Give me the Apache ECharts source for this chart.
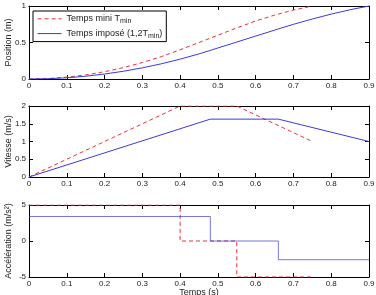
<!DOCTYPE html>
<html>
<head>
<meta charset="utf-8">
<script src="https://cdn.jsdelivr.net/npm/echarts@6/dist/echarts.min.js"></script>
<style>
html, body { margin: 0; padding: 0; background: #fff; }
#chart { width: 376px; height: 295px; }
</style>
</head>
<body>
<div id="chart"></div>
<script>
// temps (s)
const tMini = [0, 0.05, 0.1, 0.15, 0.2, 0.25, 0.3, 0.35, 0.4, 0.45, 0.5, 0.55, 0.6, 0.65, 0.7, 0.75]
const posMini = [0, 0.006, 0.025, 0.056, 0.1, 0.156, 0.225, 0.306, 0.4, 0.5, 0.6, 0.7, 0.794, 0.875, 0.944, 1.0]
const tImpose = [0, 0.05, 0.1, 0.15, 0.2, 0.25, 0.3, 0.35, 0.4, 0.45, 0.48, 0.5, 0.55, 0.6, 0.65, 0.66, 0.7, 0.75, 0.8, 0.85, 0.9]
const posImpose = [0, 0.004, 0.017, 0.038, 0.068, 0.106, 0.153, 0.208, 0.272, 0.344, 0.392, 0.425, 0.506, 0.588, 0.669, 0.686, 0.749, 0.822, 0.889, 0.949, 1.0]

// vitesse : points de rupture
const tVitMini = [0, 0.4, 0.55, 0.75]
const vitMini = [0, 2, 2, 1]
const tVitImpose = [0, 0.48, 0.66, 0.9]
const vitImpose = [0, 1.63, 1.63, 1.0]

// acceleration : paliers
const tAccMini = [0, 0.4, 0.4, 0.55, 0.55, 0.75]
const accMini = [5, 5, 0, 0, -5, -5]
const tAccImpose = [0, 0.48, 0.48, 0.66, 0.66, 0.9]
const accImpose = [3.4, 3.4, 0, 0, -2.6, -2.6]

const nomMini = 'Temps mini T_min'
const nomImpose = 'Temps imposé (1,2T_min)'

const pairs = (xs, ys) => xs.map((x, i) => [x, ys[i]])

const font = 'Liberation Sans, Arial, sans-serif'
const red = '#e8323a'
const blue = '#3a3ad8'

const grids = [
    { left: 29, right: 7, top: 6, height: 73, outerBoundsMode: 'none' },
    { left: 29, right: 7, top: 106, height: 71, outerBoundsMode: 'none' },
    { left: 29, right: 7, top: 205, height: 72, outerBoundsMode: 'none' }
]

const xAxes = []
const yAxes = []
const yConf = [
    { min: 0, max: 1, interval: 0.5, name: 'Position (m)' },
    { min: 0, max: 2, interval: 0.5, name: 'Vitesse (m/s)' },
    { min: -5, max: 5, interval: 5, name: 'Accélération (m/s²)' }
]
grids.forEach((g, i) => {
    const axisLine = { show: true, onZero: false, lineStyle: { color: '#000', width: 1 } }
    const tick = { show: true, inside: true, length: 4, lineStyle: { color: '#000' } }
    xAxes.push({
        type: 'value', gridIndex: i, position: 'bottom', min: 0, max: 0.9, interval: 0.1,
        axisLine, axisTick: tick, splitLine: { show: false },
        axisLabel: { fontSize: 8, color: '#222', fontFamily: font, margin: 3,
            formatter: v => String(Math.round(v * 10) / 10) },
        name: i === 2 ? 'Temps (s)' : '', nameLocation: 'middle', nameGap: 11,
        nameMoveOverlap: false,
        nameTextStyle: { fontSize: 9, color: '#222', fontFamily: font }
    })
    xAxes.push({
        type: 'value', gridIndex: i, position: 'top', min: 0, max: 0.9, interval: 0.1,
        axisLine, axisTick: tick, axisLabel: { show: false }, splitLine: { show: false }
    })
    const c = yConf[i]
    yAxes.push({
        type: 'value', gridIndex: i, position: 'left', min: c.min, max: c.max, interval: c.interval,
        axisLine, axisTick: tick, splitLine: { show: false },
        axisLabel: { fontSize: 8, color: '#222', fontFamily: font, margin: 3 },
        name: c.name, nameLocation: 'middle', nameGap: 16,
        nameMoveOverlap: false,
        nameTextStyle: { fontSize: 9, color: '#222', fontFamily: font }
    })
    yAxes.push({
        type: 'value', gridIndex: i, position: 'right', min: c.min, max: c.max, interval: c.interval,
        axisLine, axisTick: tick, axisLabel: { show: false }, splitLine: { show: false }
    })
})

const line = (name, data, idx, color, dashed, opacity) => ({
    name, type: 'line', data, xAxisIndex: idx * 2, yAxisIndex: idx * 2,
    symbol: 'none', animation: false,
    lineStyle: { color, width: 1, type: dashed ? [4, 3] : 'solid', opacity: opacity || 1 },
    itemStyle: { color }
})

const chart = echarts.init(document.getElementById('chart'))
chart.setOption({
    backgroundColor: '#fff',
    animation: false,
    legend: {
        orient: 'vertical', left: 33, top: 11, itemGap: 4, itemWidth: 24, itemHeight: 12,
        padding: [3, 4, 2, 4],
        borderColor: '#000', borderWidth: 1, backgroundColor: '#fff',
        itemStyle: { opacity: 0 },
        lineStyle: { width: 1 },
        data: [nomMini, nomImpose],
        formatter: n => n === nomMini
            ? '{a|Temps mini T}{s|min}'
            : '{a|Temps imposé (1,2T}{s|min}{a|)}',
        textStyle: {
            rich: {
                a: { fontSize: 9, color: '#222', fontFamily: font },
                s: { fontSize: 7, color: '#222', fontFamily: font, padding: [5, 0, 0, 0] }
            }
        }
    },
    grid: grids,
    xAxis: xAxes,
    yAxis: yAxes,
    series: [
        line(nomMini, pairs(tMini, posMini), 0, red, true),
        line(nomImpose, pairs(tImpose, posImpose), 0, blue, false),
        line(nomMini, pairs(tVitMini, vitMini), 1, red, true),
        line(nomImpose, pairs(tVitImpose, vitImpose), 1, blue, false),
        line(nomMini, pairs(tAccMini, accMini), 2, red, true),
        line(nomImpose, pairs(tAccImpose, accImpose), 2, blue, false, 0.7)
    ]
})
</script>
</body>
</html>
